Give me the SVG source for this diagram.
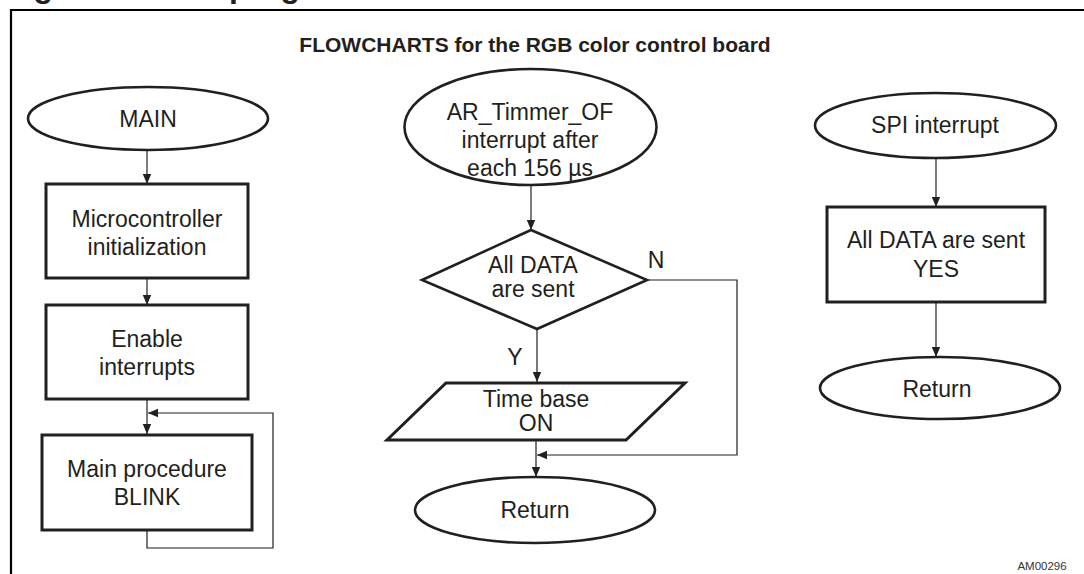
<svg xmlns="http://www.w3.org/2000/svg" width="1084" height="574" viewBox="0 0 1084 574">
<defs>
<style>
.t{font-family:"Liberation Sans",Arial,sans-serif;font-size:23px;fill:#231f20;text-anchor:middle}
.shape{fill:#fff;stroke:#231f20;stroke-width:2.6}
.box{fill:#fff;stroke:#231f20;stroke-width:3}
.c{fill:none;stroke:#231f20;stroke-width:1.2}
</style>
<marker id="ah" markerUnits="userSpaceOnUse" markerWidth="10" markerHeight="10" viewBox="0 0 10 10" refX="10" refY="5" orient="auto">
<path d="M0,0.8 L10,5 L0,9.2 Z" fill="#231f20"/>
</marker>
</defs>
<rect width="1084" height="574" fill="#fff"/>
<text x="5" y="-3" font-family="Liberation Sans,Arial,sans-serif" font-weight="bold" font-size="32" fill="#231f20">Figure 3. Main program flowchart</text>
<path d="M11,580 V10 H1090" fill="none" stroke="#000" stroke-width="2.2"/>
<text x="535" y="52" font-family="Liberation Sans,Arial,sans-serif" font-weight="bold" font-size="21" fill="#231f20" text-anchor="middle">FLOWCHARTS for the RGB color control board</text>

<g id="connectors">
<line class="c" x1="147" y1="150" x2="147" y2="184" marker-end="url(#ah)"/>
<line class="c" x1="147" y1="278" x2="147" y2="305" marker-end="url(#ah)"/>
<line class="c" x1="147" y1="399" x2="147" y2="434" marker-end="url(#ah)"/>
<polyline class="c" points="147,530 147,548 273,548 273,413 148,413" marker-end="url(#ah)"/>
<line class="c" x1="531" y1="185" x2="531" y2="230" marker-end="url(#ah)"/>
<line class="c" x1="537" y1="329" x2="537" y2="382" marker-end="url(#ah)"/>
<polyline class="c" points="647,280 737,280 737,455 537,455" marker-end="url(#ah)"/>
<line class="c" x1="536" y1="440" x2="536" y2="477" marker-end="url(#ah)"/>
<line class="c" x1="936" y1="158" x2="936" y2="207" marker-end="url(#ah)"/>
<line class="c" x1="936" y1="302" x2="936" y2="357" marker-end="url(#ah)"/>
<text class="t" x="656" y="268">N</text>
<text class="t" x="515" y="365">Y</text>
</g>

<g id="main">
<ellipse class="shape" cx="148" cy="118.5" rx="120" ry="31.5"/>
<text class="t" x="148" y="127">MAIN</text>
</g>
<g id="init">
<rect class="box" x="46" y="184" width="202" height="94"/>
<text class="t" x="147" y="227">Microcontroller</text>
<text class="t" x="147" y="255">initialization</text>
</g>
<g id="enable">
<rect class="box" x="46" y="305" width="202" height="94"/>
<text class="t" x="147" y="347">Enable</text>
<text class="t" x="147" y="375">interrupts</text>
</g>
<g id="blink">
<rect class="box" x="42" y="435" width="210" height="95"/>
<text class="t" x="147" y="477">Main procedure</text>
<text class="t" x="147" y="505">BLINK</text>
</g>

<g id="timer">
<ellipse class="shape" cx="530.5" cy="127" rx="126" ry="58"/>
<text class="t" x="530" y="120">AR_Timmer_OF</text>
<text class="t" x="530" y="148">interrupt after</text>
<text class="t" x="530" y="176">each 156 µs</text>
</g>
<g id="decision">
<polygon class="shape" points="531,230 647,280 537,329 422,280"/>
<text class="t" x="533" y="273">All DATA</text>
<text class="t" x="533" y="297">are sent</text>
</g>
<g id="timebase">
<polygon class="box" points="446,383 685,383 626,440 387,440"/>
<text class="t" x="536" y="407">Time base</text>
<text class="t" x="536" y="431">ON</text>
</g>
<g id="return1">
<ellipse class="shape" cx="535" cy="510" rx="120" ry="33"/>
<text class="t" x="535" y="518">Return</text>
</g>

<g id="spi">
<ellipse class="shape" cx="935.5" cy="125.5" rx="120.5" ry="32.5"/>
<text class="t" x="935" y="133">SPI interrupt</text>
</g>
<g id="sent">
<rect class="box" x="827" y="207" width="218" height="95"/>
<text class="t" x="936" y="248">All DATA are sent</text>
<text class="t" x="936" y="277">YES</text>
</g>
<g id="return2">
<ellipse class="shape" cx="940" cy="388" rx="120" ry="31"/>
<text class="t" x="937" y="397">Return</text>
</g>

<text x="1042" y="570" font-family="Liberation Sans,Arial,sans-serif" font-size="11.5" fill="#333" text-anchor="middle">AM00296</text>
</svg>
